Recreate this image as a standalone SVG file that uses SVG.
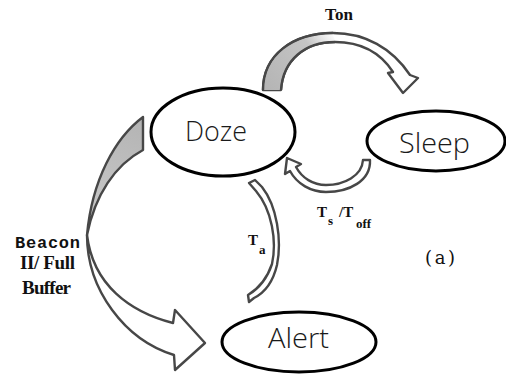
<svg xmlns="http://www.w3.org/2000/svg" width="506" height="376" viewBox="0 0 506 376">
<defs>
<linearGradient id="gTop" x1="263" y1="90" x2="335" y2="35" gradientUnits="userSpaceOnUse">
  <stop offset="0" stop-color="#b4b4b4"/>
  <stop offset="0.7" stop-color="#c4c4c4"/>
  <stop offset="1" stop-color="#ffffff"/>
</linearGradient>
<linearGradient id="gLeft" x1="143" y1="120" x2="88" y2="235" gradientUnits="userSpaceOnUse">
  <stop offset="0" stop-color="#b4b4b4"/>
  <stop offset="0.8" stop-color="#c6c6c6"/>
  <stop offset="1" stop-color="#e4e4e4"/>
</linearGradient>
</defs>
<style>
.node{fill:#fff;stroke:#000;stroke-width:3}
.ntxt{font-family:"Open Sans","Noto Sans",sans-serif;font-weight:300;fill:#1a1a1a}
.arw{fill:#fff;stroke:#474747;stroke-width:2.4;stroke-linejoin:round}
.edge{fill:none;stroke:#474747;stroke-width:2.4}
.lbl{font-family:"Liberation Serif","Times New Roman",serif;font-weight:bold;fill:#111}
</style>
<rect width="506" height="376" fill="#fff"/>
<g id="connectors">
  <g id="doze-sleep">
    <path class="arw" d="M263,90 C263,55 293,33 333,33 C365,33 392,48 410,75 L418,78 L403,93 L388,73 L393,72 C380,52 360,42 335,42 C305,42 283,60 281,90 Z"/>
    <path fill="url(#gTop)" d="M264,90 C264,56 293,34 333,34 L335,41 C305,41 282,60 280,90 Z"/>
    <path class="edge" d="M263,90 C263,55 293,33 333,33 M335,42 C305,42 283,60 281,90"/>
  </g>
  <g id="doze-alert">
    <path class="arw" d="M87,235 C87,290 125,340 174,355 L175,370 L205,343 L175,310 L173,323 C130,312 93,285 87,235 Z"/>
    <path fill="url(#gLeft)" stroke="#474747" stroke-width="2.4" stroke-linejoin="round" d="M143,117 C115,138 92,180 87,235 C95,195 115,165 143,150 Z"/>
  </g>
  <g id="sleep-doze">
    <path class="arw" stroke-width="2" d="M370,160 C371,181 349,192 326,192 C311,192 297,184 290,171 L285,174 L287,158 L301,164 L296,167 C302,178 313,185 326,185 C344,185 362,176 363,160 Z"/>
  </g>
  <g id="alert-doze">
    <path class="arw" stroke-width="2" d="M249,183 L255,180 L262,187 C277,206 282,240 277,265 C273,282 264,293 254,298 L249,302 L248,295 C258,289 267,279 272,264 C277,241 272,210 256,191 Z"/>
  </g>
</g>
<g id="doze">
  <ellipse class="node" cx="223" cy="132" rx="72" ry="44"/>
  <text class="ntxt" x="185" y="141" font-size="28" textLength="62" lengthAdjust="spacingAndGlyphs">Doze</text>
</g>
<g id="sleep">
  <ellipse class="node" cx="436" cy="141" rx="69" ry="30"/>
  <text class="ntxt" x="399" y="153" font-size="28" textLength="71" lengthAdjust="spacingAndGlyphs">Sleep</text>
</g>
<g id="alert">
  <ellipse class="node" cx="299" cy="342" rx="77" ry="30"/>
  <text class="ntxt" x="268" y="348" font-size="27" textLength="61" lengthAdjust="spacingAndGlyphs">Alert</text>
</g>
<g id="labels">
  <text class="lbl" x="325" y="20" font-size="17" textLength="28">Ton</text>
  <text x="15" y="248" font-family="'Liberation Mono','Courier New',monospace" font-weight="bold" font-size="17" fill="#111" textLength="65">Beacon</text>
  <text class="lbl" x="20" y="269" font-size="19" textLength="55">II/ Full</text>
  <text class="lbl" x="22" y="294" font-size="19" textLength="49">Buffer</text>
  <text class="lbl" x="317" y="217" font-size="15">T</text>
  <text class="lbl" x="328" y="225" font-size="13">s</text>
  <text class="lbl" x="339" y="217" font-size="15">/T</text>
  <text class="lbl" x="356" y="228" font-size="13">off</text>
  <text class="lbl" x="248" y="245" font-size="15">T</text>
  <text class="lbl" x="259" y="254" font-size="13">a</text>
  <text x="425" y="264" font-family="'DejaVu Serif','Liberation Serif',serif" font-size="18" fill="#111" textLength="30" lengthAdjust="spacing">(a)</text>
</g>
</svg>
